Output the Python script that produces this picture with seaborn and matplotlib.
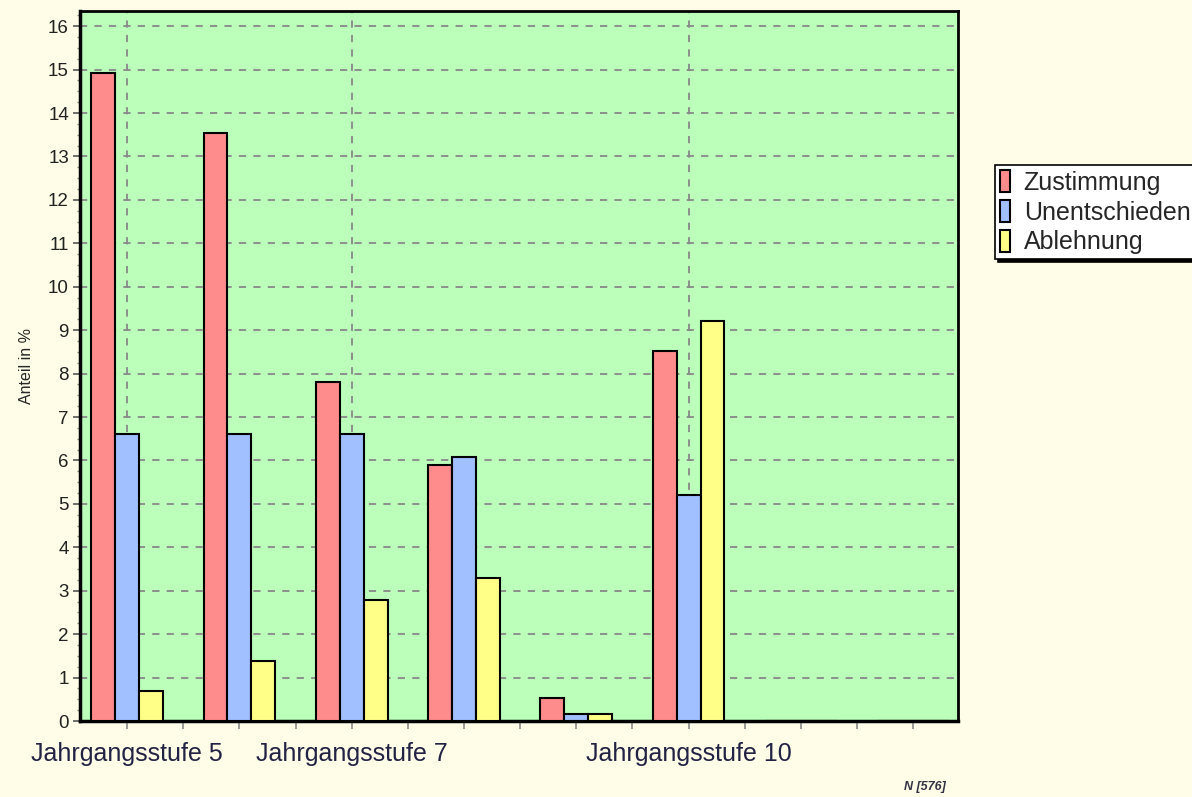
import matplotlib
matplotlib.use("Agg")
import matplotlib.pyplot as plt
import numpy as np
import pandas as pd
import seaborn as sns
from matplotlib.ticker import MultipleLocator, FixedLocator

# values (percent of N = 576)
stufen = ["Jahrgangsstufe 5", "Jahrgangsstufe 6", "Jahrgangsstufe 7", "Jahrgangsstufe 8",
          "Jahrgangsstufe 9", "Jahrgangsstufe 10", "Jahrgangsstufe 11", "Jahrgangsstufe 12"]
shown_labels = ["Jahrgangsstufe 5", "Jahrgangsstufe 7", "Jahrgangsstufe 10"]
antworten = ["Zustimmung", "Unentschieden", "Ablehnung"]
zustimmung = [14.93, 13.54, 7.81, 5.90, 0.52, 8.51, 0.0, 0.0]
unentschieden = [6.60, 6.60, 6.60, 6.08, 0.17, 5.21, 0.0, 0.0]
ablehnung = [0.69, 1.39, 2.78, 3.30, 0.17, 9.20, 0.0, 0.0]
farben = ["#FF8C8C", "#A0C0FF", "#FFFF88"]

df = pd.DataFrame({
    "Stufe": stufen * 3,
    "Antwort": np.repeat(antworten, len(stufen)),
    "Anteil": zustimmung + unentschieden + ablehnung,
})

sns.set_style("white")
plt.rcParams["font.family"] = ["Liberation Sans", "DejaVu Sans"]

fig = plt.figure(figsize=(11.92, 7.97), dpi=100)
fig.patch.set_facecolor("#FFFDE8")
ax = fig.add_axes([80 / 1192, 1 - 721 / 797, 878 / 1192, 710 / 797])
ax.set_facecolor("#BBFFBB")

sns.barplot(data=df, x="Stufe", y="Anteil", hue="Antwort", order=stufen, hue_order=antworten,
            palette=farben, width=0.64, edgecolor="black", linewidth=1.5, saturation=1,
            ax=ax, zorder=3)

ax.set_xlim(-0.42, 7.40)
ax.set_ylim(0, 16.35)
ax.yaxis.set_major_locator(MultipleLocator(1))
ax.yaxis.set_minor_locator(MultipleLocator(0.25))

# only some category labels are printed
pos = [stufen.index(s) for s in shown_labels]
ax.xaxis.set_major_locator(FixedLocator(pos))
ax.set_xticklabels(shown_labels, fontsize=18, color="#222244")
ax.xaxis.set_minor_locator(MultipleLocator(0.5))

ax.grid(True, which="major", axis="both", color="#888888", linestyle=(0, (4, 4)), linewidth=1.3, zorder=0)
ax.set_axisbelow(True)

ax.tick_params(bottom=True, left=True, which="both")
ax.tick_params(axis="y", which="major", direction="out", length=5, width=1.2, labelsize=13.5,
               color="#555555", pad=3)
ax.tick_params(axis="y", which="minor", direction="out", length=2.5, width=1, color="#888888")
ax.tick_params(axis="x", which="both", direction="out", length=6, width=1.2, color="#888888", pad=9)
for lbl in ax.get_yticklabels():
    lbl.set_color("#222222")

for side in ["left", "bottom"]:
    ax.spines[side].set_linewidth(2.5)
for side in ["top", "right"]:
    ax.spines[side].set_linewidth(2.0)
for sp in ax.spines.values():
    sp.set_color("black")
    sp.set_visible(True)

ax.set_xlabel("")
ax.set_ylabel("Anteil in %", fontsize=11.5, labelpad=10)

leg = ax.legend(loc="upper left", bbox_to_anchor=(1.042, 0.783), frameon=True, fancybox=False,
                shadow={"color": "black", "alpha": 1}, fontsize=18, handlelength=0.4,
                handleheight=1.0, handletextpad=0.55, borderpad=0.2, labelspacing=0.2,
                borderaxespad=0)
leg.get_frame().set_edgecolor("black")
leg.get_frame().set_linewidth(1.2)
leg.get_frame().set_facecolor("white")

fig.text(925 / 1192, 1 - 787 / 797, "N [576]", fontsize=9, style="italic", fontweight="bold",
         color="#333344", ha="center", va="center")

fig.savefig("out.png", dpi=100, facecolor=fig.get_facecolor())
